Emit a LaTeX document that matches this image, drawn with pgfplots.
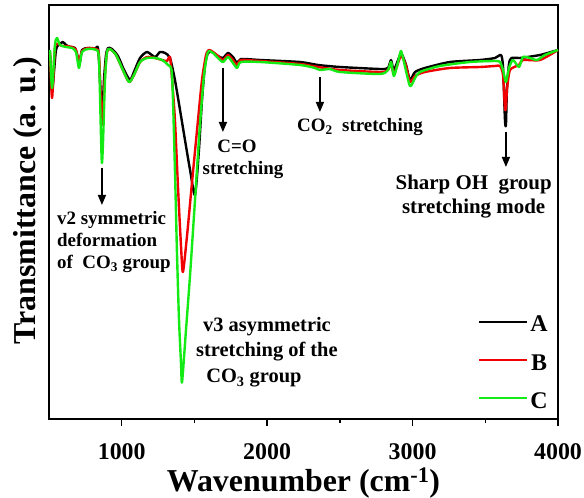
\documentclass[border=0pt]{standalone}
\usepackage{fontspec}
\setmainfont{Liberation Serif}
\usepackage{pgfplots}
\pgfplotsset{compat=1.18}
\usetikzlibrary{arrows.meta}
\definecolor{cA}{RGB}{0,0,0}
\definecolor{cB}{RGB}{240,0,0}
\definecolor{cC}{RGB}{20,235,20}
\newcommand{\fs}[1]{\fontsize{#1}{#1}\selectfont\bfseries}
\begin{document}
\begin{tikzpicture}
\path[use as bounding box] (0,0) rectangle (584bp,498bp);
\begin{axis}[
  at={(49bp,79bp)}, anchor=south west,
  width=509bp, height=414bp, scale only axis,
  xmin=500, xmax=4000, ymin=0, ymax=414,
  clip=false,
  xtick={1000,2000,3000,4000}, minor xtick={1500,2500,3500},
  ytick=\empty,
  xtick pos=bottom, tick align=outside,
  major tick length=7bp, minor tick length=4bp,
  axis line style={line width=1.6bp},
  every tick/.style={line width=1.4bp, black},
  scaled x ticks=false,
  /pgf/number format/assume math mode=true,
  /pgf/number format/1000 sep={},
  xticklabel style={font=\fs{24}, anchor=base, yshift=-33bp},
  xlabel={Wavenumber (cm\textsuperscript{-1})},
  ylabel={Transmittance (a. u.)},
  xlabel style={font=\fs{32}, at={(axis description cs:0.5,-0.174)}, anchor=base},
  ylabel style={font=\fs{32}, at={(axis description cs:-0.0275,0.527)}, anchor=base},
  legend style={draw=none, fill=none, at={(axis description cs:0.984,0.2536)}, anchor=north east,
    inner sep=0pt, row sep=17bp, font=\fs{24}, nodes={inner sep=2bp}},
  legend image code/.code={\draw[#1, line width=2.2bp] (0bp,3bp) -- (48bp,3bp);},
  every axis plot/.append style={line width=2.4bp, no marks, line join=round, smooth, tension=0.4},
]
\addplot[cA] coordinates {
(507,364) (521,327) (548,369) (576,375) (596,377) (617,374) (644,372) (679,371) (699,361) (713,357) (727,369) (768,371) (816,370) (837,371) (851,339) (864,299) (878,339) (892,364) (906,371) (933,370) (974,363) (1016,349) (1057,339) (1084,347) (1126,361) (1174,367) (1229,362) (1263,367) (1298,366) (1332,361) (1366,339) (1401,309) (1435,279) (1470,249) (1504,224) (1531,269) (1552,319) (1573,354) (1593,366) (1621,367) (1662,363) (1696,361) (1731,366) (1765,362) (1793,356) (1820,360) (1951,359) (2226,357) (2350,354) (2501,352) (2776,350) (2831,351) (2852,359) (2872,349) (2920,365) (2955,354) (2982,339) (3017,347) (3085,351) (3257,357) (3464,359) (3567,361) (3608,364) (3622,352) (3635,300) (3642,294) (3649,330) (3663,355) (3680,361) (3739,361) (3876,364) (4000,369)
};
\addlegendentry{A}
\addplot[cB] coordinates {
(507,367) (521,321) (541,371) (562,375) (589,373) (617,373) (658,372) (686,369) (706,357) (727,368) (768,371) (823,370) (844,363) (864,294) (885,344) (899,367) (919,370) (961,364) (1002,351) (1050,337) (1084,344) (1126,357) (1174,362) (1229,361) (1277,359) (1311,358) (1332,362) (1346,340) (1366,299) (1387,232) (1408,172) (1421,147) (1449,183) (1483,236) (1518,289) (1552,339) (1580,364) (1600,369) (1628,367) (1662,363) (1696,359) (1731,364) (1765,359) (1793,354) (1820,359) (1951,358) (2226,355) (2350,352) (2501,349) (2776,347) (2831,349) (2852,356) (2872,345) (2920,363) (2955,353) (2982,337) (3017,343) (3085,347) (3257,351) (3464,352) (3567,353) (3601,353) (3622,344) (3635,311) (3642,311) (3649,329) (3670,349) (3732,354) (3759,359) (3876,359) (4000,369)
};
\addlegendentry{B}
\addplot[cC] coordinates {
(507,369) (521,331) (541,374) (555,381) (576,374) (617,372) (658,371) (686,367) (706,351) (727,367) (768,370) (823,369) (844,359) (864,256) (885,339) (899,367) (919,370) (961,364) (1002,351) (1050,337) (1084,344) (1126,357) (1174,361) (1229,361) (1277,359) (1318,354) (1346,344) (1366,249) (1380,166) (1394,99) (1408,55) (1415,37) (1442,89) (1470,144) (1504,219) (1538,294) (1566,344) (1593,367) (1628,366) (1662,361) (1696,357) (1731,362) (1765,356) (1793,351) (1820,357) (1951,357) (2226,354) (2329,351) (2363,349) (2432,350) (2501,347) (2776,345) (2831,349) (2852,357) (2872,343) (2900,357) (2920,368) (2941,357) (2982,333) (3017,341) (3051,347) (3188,353) (3395,357) (3567,358) (3601,357) (3622,349) (3642,337) (3663,351) (3690,359) (3732,352) (3759,362) (3807,361) (3856,359) (3910,364) (4000,369)
};
\addlegendentry{C}
% arrows
\draw[-{Triangle[length=10bp,width=8bp]}, line width=1.5bp] (axis cs:864,251) -- (axis cs:864,214);
\draw[-{Triangle[length=10bp,width=8bp]}, line width=1.5bp] (axis cs:1696,351) -- (axis cs:1696,287);
\draw[-{Triangle[length=10bp,width=8bp]}, line width=1.5bp] (axis cs:2363,342) -- (axis cs:2363,307);
\draw[-{Triangle[length=10bp,width=8bp]}, line width=1.5bp] (axis cs:3642,287) -- (axis cs:3642,252);
% texts
\node[font=\fs{19}, anchor=base west, inner sep=0pt] at (axis cs:555,194) {v2 symmetric};
\node[font=\fs{19}, anchor=base west, inner sep=0pt] at (axis cs:555,172) {deformation};
\node[font=\fs{19}, anchor=base west, inner sep=0pt] at (axis cs:555,150) {of\ \ CO\textsubscript{3} group};
\node[font=\fs{20.5}, anchor=base west, inner sep=0pt] at (axis cs:1559,87) {v3 asymmetric};
\node[font=\fs{20.5}, anchor=base west, inner sep=0pt] at (axis cs:1511,62) {stretching of the};
\node[font=\fs{20.5}, anchor=base west, inner sep=0pt] at (axis cs:1580,36) {CO\textsubscript{3} group};
\node[font=\fs{19}, anchor=base, inner sep=0pt] at (axis cs:1793,266) {C=O};
\node[font=\fs{19}, anchor=base, inner sep=0pt] at (axis cs:1834,244) {stretching};
\node[font=\fs{19}, anchor=base west, inner sep=0pt] at (axis cs:2205,287) {CO\textsubscript{2}\ \ stretching};
\node[font=\fs{21}, anchor=base, inner sep=0pt] at (axis cs:3420,229) {Sharp OH\ \ group};
\node[font=\fs{21}, anchor=base, inner sep=0pt] at (axis cs:3420,205) {stretching mode};
\end{axis}
\end{tikzpicture}
\end{document}
